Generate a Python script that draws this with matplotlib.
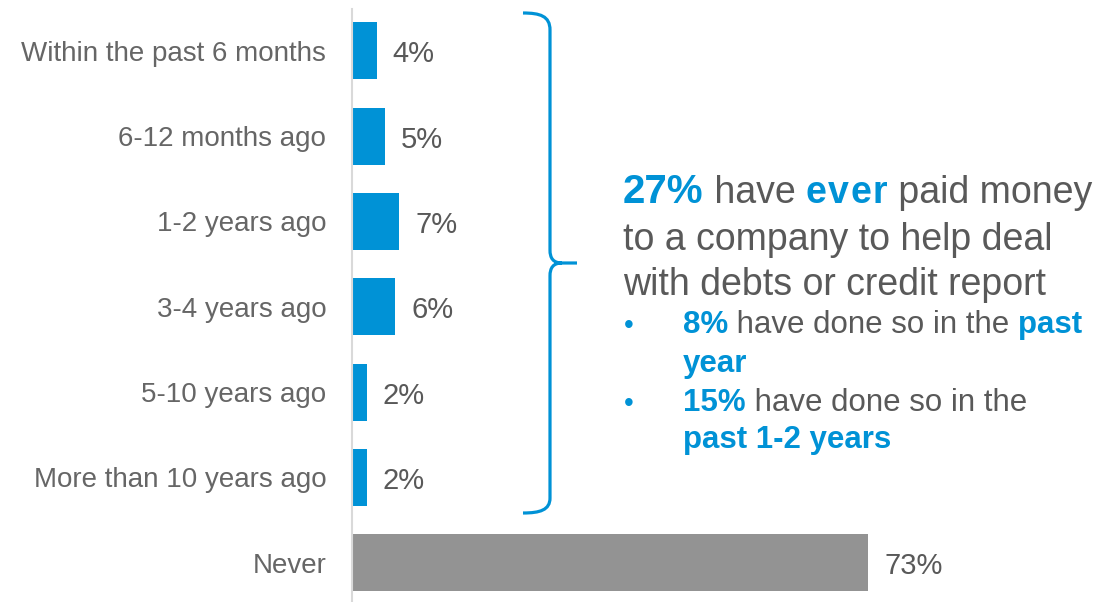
import matplotlib.pyplot as plt
from matplotlib.path import Path
from matplotlib.patches import PathPatch

plt.rcParams['font.family'] = ['Liberation Sans', 'DejaVu Sans']

# data
categories = ['Within the past 6 months', '6-12 months ago', '1-2 years ago',
              '3-4 years ago', '5-10 years ago', 'More than 10 years ago', 'Never']
values = [3.5, 4.6, 6.7, 6.1, 2.1, 2.1, 73]
value_labels = ['4%', '5%', '7%', '6%', '2%', '2%', '73%']

BLUE = '#0092D6'
GRAY_BAR = '#939393'
TXT = '#595959'
W, H = 1096, 602

fig = plt.figure(figsize=(W / 100, H / 100), dpi=100)
ax = fig.add_axes([352 / W, 0, (W - 352) / W, (H - 9) / H])

colors = [BLUE] * 6 + [GRAY_BAR]
ypos = list(range(len(categories)))
ax.barh(ypos, values, height=0.67, color=colors)
ax.set_xlim(0, (W - 352) / 7.07)
ax.set_ylim(6.46, -0.49)

for i, (v, lbl) in enumerate(zip(values, value_labels)):
    ax.annotate(lbl, (v, i), xytext=(11.5, -2.5), textcoords='offset points',
                va='center', ha='left', fontsize=21, color=TXT)

ax.set_yticks(ypos)
ax.set_yticklabels(categories, fontsize=20, color='#666666')
ax.tick_params(axis='y', length=0, pad=18.5)
ax.set_xticks([])
for s in ['top', 'right', 'bottom']:
    ax.spines[s].set_visible(False)
ax.spines['left'].set_color('#D9D9D9')
ax.spines['left'].set_linewidth(1.5)


def fx(x):
    return x / W


def fy(y):
    return 1 - y / H


# curly brace
pts = [(523, 13), (540, 13), (550, 16), (550, 30),
       (550, 250),
       (550, 258), (553, 263), (562, 263),
       (577, 263),
       (562, 263),
       (553, 263), (550, 268), (550, 276),
       (550, 498),
       (550, 510), (540, 513), (523, 513)]
codes = [Path.MOVETO, Path.CURVE4, Path.CURVE4, Path.CURVE4,
         Path.LINETO,
         Path.CURVE4, Path.CURVE4, Path.CURVE4,
         Path.LINETO,
         Path.MOVETO,
         Path.CURVE4, Path.CURVE4, Path.CURVE4,
         Path.LINETO,
         Path.CURVE4, Path.CURVE4, Path.CURVE4]
brace = Path([(fx(x), fy(y)) for x, y in pts], codes)
fig.add_artist(PathPatch(brace, transform=fig.transFigure, fill=False,
                         edgecolor=BLUE, linewidth=2.3, capstyle='butt'))

renderer = fig.canvas.get_renderer()


def draw_runs(x, y, runs):
    # runs: (text, colour, weight, size, extra letter spacing in px)
    for txt, color, weight, size, track in runs:
        parts = list(txt) if track else [txt]
        for p in parts:
            t = fig.text(fx(x), fy(y), p, color=color, fontweight=weight,
                         fontsize=size, va='baseline', ha='left')
            x += t.get_window_extent(renderer).width + track
        x -= track


big = 27
draw_runs(623, 203, [('27%', BLUE, 'bold', 29, 0), (' have ', TXT, 'normal', big, 0),
                     ('ever', BLUE, 'bold', big, 1.5),
                     (' paid money', TXT, 'normal', big, 0)])
draw_runs(623, 250, [('to a company to help deal', TXT, 'normal', big, 0)])
draw_runs(623, 295, [('with debts or credit report', TXT, 'normal', big, 0)])

small = 22.5
fig.text(fx(624), fy(333), '\u2022', color=BLUE, fontsize=20, va='baseline')
fig.text(fx(624), fy(411), '\u2022', color=BLUE, fontsize=20, va='baseline')
draw_runs(683, 333, [('8%', BLUE, 'bold', small, 0),
                     (' have done so in the ', TXT, 'normal', small, 0),
                     ('past', BLUE, 'bold', small, 0)])
draw_runs(683, 372, [('year', BLUE, 'bold', small, 0)])
draw_runs(683, 411, [('15%', BLUE, 'bold', small, 0),
                     (' have done so in the', TXT, 'normal', small, 0)])
draw_runs(683, 448, [('past 1-2 years', BLUE, 'bold', small, 0)])

fig.savefig('out.png', dpi=100)
